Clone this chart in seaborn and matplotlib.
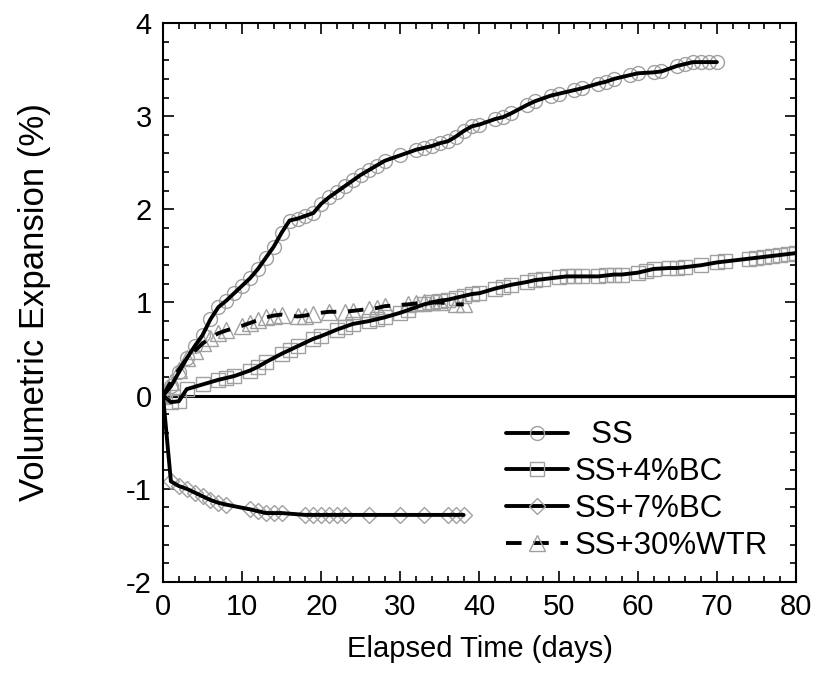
import matplotlib
matplotlib.use("Agg")
import matplotlib.pyplot as plt
import seaborn as sns
import pandas as pd
from matplotlib.lines import Line2D
from matplotlib.ticker import MultipleLocator

# ---------------- data ----------------
ss_x = [0, 1, 2, 3, 4, 5, 6, 7, 8, 9, 10, 11, 12, 13, 14, 15, 16, 17, 18, 19, 20,
        21, 22, 23, 24, 25, 26, 27, 28, 30, 32, 33, 34, 35, 36, 37, 38, 39, 40, 42,
        43, 44, 46, 47, 49, 50, 52, 53, 55, 56, 57, 59, 60, 62, 63, 65, 66, 67, 68,
        69, 70]
ss_y = [0, 0.10, 0.25, 0.40, 0.53, 0.65, 0.82, 0.95, 1.02, 1.10, 1.18, 1.26, 1.36,
        1.48, 1.60, 1.75, 1.88, 1.90, 1.93, 1.96, 2.06, 2.13, 2.19, 2.25, 2.31, 2.37,
        2.42, 2.47, 2.52, 2.58, 2.64, 2.66, 2.68, 2.71, 2.73, 2.78, 2.84, 2.89, 2.91,
        2.97, 2.99, 3.03, 3.12, 3.16, 3.22, 3.24, 3.28, 3.30, 3.35, 3.37, 3.40, 3.44,
        3.46, 3.47, 3.48, 3.54, 3.56, 3.58, 3.58, 3.58, 3.58]

bc4_x = [0, 1, 2, 3, 5, 7, 8, 9, 11, 12, 13, 15, 16, 17, 19, 20, 22, 23, 24, 26, 27,
         28, 30, 31, 33, 34, 35, 36, 37, 38, 39, 40, 42, 43, 44, 46, 47, 48, 50, 51,
         52, 53, 55, 56, 57, 58, 60, 61, 62, 64, 65, 66, 68, 70, 71, 74, 75, 76, 77,
         78, 79, 80]
bc4_y = [0, -0.07, -0.06, 0.07, 0.12, 0.17, 0.19, 0.21, 0.27, 0.31, 0.36, 0.45, 0.49,
         0.53, 0.61, 0.64, 0.71, 0.74, 0.77, 0.80, 0.82, 0.84, 0.89, 0.92, 0.98, 1.00,
         1.02, 1.03, 1.05, 1.07, 1.09, 1.10, 1.15, 1.17, 1.19, 1.22, 1.24, 1.25, 1.27,
         1.28, 1.28, 1.28, 1.28, 1.29, 1.30, 1.30, 1.32, 1.34, 1.36, 1.37, 1.37, 1.38,
         1.40, 1.43, 1.44, 1.47, 1.48, 1.49, 1.50, 1.51, 1.52, 1.53]

bc7_x = [0, 1, 2, 3, 4, 5, 6, 7, 8, 11, 12, 13, 14, 15, 18, 19, 20, 21, 22, 23, 26,
         30, 33, 36, 37, 38]
bc7_y = [0, -0.92, -0.97, -1.00, -1.04, -1.08, -1.12, -1.15, -1.17, -1.22, -1.24,
         -1.26, -1.26, -1.26, -1.28, -1.28, -1.28, -1.28, -1.28, -1.28, -1.28, -1.28,
         -1.28, -1.28, -1.28, -1.28]

wtr_x = [0, 1, 2, 3, 4, 5, 6, 7, 8, 10, 11, 12, 13, 14, 15, 17, 18, 19, 21, 23, 24,
         26, 27, 28, 31, 32, 33, 34, 35, 37, 38]
wtr_y = [0, 0.15, 0.28, 0.40, 0.48, 0.56, 0.62, 0.67, 0.70, 0.75, 0.78, 0.81, 0.84,
         0.86, 0.87, 0.85, 0.86, 0.88, 0.90, 0.90, 0.91, 0.93, 0.94, 0.96, 0.98, 0.99,
         1.00, 1.00, 1.00, 0.98, 0.98]

labels = ["  SS", "SS+4%BC", "SS+7%BC", "SS+30%WTR"]
x_ticks = [0, 10, 20, 30, 40, 50, 60, 70, 80]
y_ticks = [-2, -1, 0, 1, 2, 3, 4]

# ---------------- style ----------------
sns.set_style("ticks")
plt.rcParams["font.family"] = ["Liberation Sans", "DejaVu Sans"]
plt.rcParams["axes.unicode_minus"] = False
plt.rcParams["text.color"] = "black"
plt.rcParams["axes.labelcolor"] = "black"
plt.rcParams["xtick.color"] = "black"
plt.rcParams["ytick.color"] = "black"

fig = plt.figure(figsize=(8.17, 6.78), dpi=100)
ax = fig.add_axes([0.1995, 0.1416, 0.7748, 0.8245])

mk_edge = "#a0a0a0"
series = [
    (ss_x, ss_y, "o", "-", 10),
    (bc4_x, bc4_y, "s", "-", 10),
    (bc7_x, bc7_y, "D", "-", 8),
    (wtr_x, wtr_y, "^", (0, (4, 3)), 11),
]

# zero reference line
ax.axhline(0, color="black", lw=2.2, zorder=1)

for (xs, ys, m, ls, ms), lab in zip(series, labels):
    df = pd.DataFrame({"x": xs, "y": ys})
    # markers (gray, open)
    sns.lineplot(data=df, x="x", y="y", ax=ax, linestyle="none", marker=m,
                 markersize=ms, markerfacecolor="none", markeredgecolor=mk_edge,
                 markeredgewidth=1.0, color=mk_edge, zorder=2, estimator=None,
                 sort=False)
    # black line
    sns.lineplot(data=df, x="x", y="y", ax=ax, color="black", lw=2.8,
                 linestyle=ls, zorder=3, estimator=None, sort=False)

ax.set_xlim(0, 80)
ax.set_ylim(-2, 4)
ax.set_xticks(x_ticks)
ax.set_yticks(y_ticks)
ax.xaxis.set_minor_locator(MultipleLocator(2))
ax.yaxis.set_minor_locator(MultipleLocator(0.2))
ax.tick_params(which="both", direction="in", top=True, right=True, color="black",
               width=1.2)
ax.tick_params(which="major", length=8, labelsize=21, pad=8)
ax.tick_params(which="minor", length=4)
for sp in ax.spines.values():
    sp.set_linewidth(1.5)
    sp.set_color("black")

ax.set_xlabel("Elapsed Time (days)", fontsize=21, labelpad=10)
ax.set_ylabel("Volumetric Expansion (%)", fontsize=25, labelpad=54)

handles = []
for (xs, ys, m, ls, ms) in series:
    handles.append(Line2D([0], [0], color="black", lw=2.8, linestyle=ls, marker=m,
                          markersize=ms, markerfacecolor="none",
                          markeredgecolor=mk_edge, markeredgewidth=1.0))
leg = ax.legend(handles, labels, loc="lower right", frameon=False, fontsize=22.5,
                handlelength=2.0, handletextpad=0.2, labelspacing=0.22,
                borderaxespad=0.0, bbox_to_anchor=(0.975, 0.015))

fig.savefig("out.png", dpi=100)
